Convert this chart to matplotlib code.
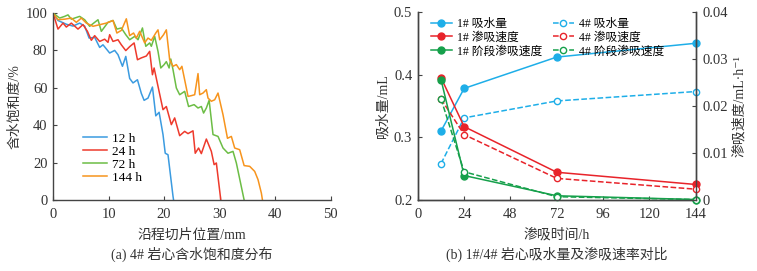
import matplotlib
matplotlib.use("Agg")
import matplotlib.pyplot as plt
from matplotlib.lines import Line2D

plt.rcParams["font.family"] = ["Liberation Serif", "Noto Sans CJK SC", "DejaVu Sans"]
plt.rcParams["axes.unicode_minus"] = False

# (a) 4# core water saturation along slice position
x12 = [0, 0.9, 2.4, 3.6, 4.8, 5.7, 6.5, 7.5, 8.4, 9.0, 10.2, 11.1, 11.7, 12.5, 13.1, 13.8,
       14.4, 15.2, 15.9, 16.4, 17.1, 17.9, 18.2, 18.5, 19.1, 19.8, 20.2, 20.7, 21.6, 21.7]
s12 = [100, 96, 94, 93, 94.6, 93, 86.6, 87, 81.6, 83, 78.6, 80, 77.7, 71.5, 76.8, 65,
       62.6, 64.3, 57, 53.3, 54.5, 60.4, 52.8, 45, 46.9, 35, 25, 24.2, 2, 0]

x24 = [0, 0.9, 1.8, 2.4, 3.3, 4.5, 5.4, 6.2, 6.9, 7.5, 8.4, 9.3, 9.9, 10.2, 10.8, 11.7,
       12.3, 13.1, 13.8, 14.6, 15.2, 15.9, 16.8, 17.4, 17.9, 18.2, 19.1, 19.8, 20.4, 21.3,
       21.9, 22.8, 23.7, 24.3, 25.2, 25.6, 26.2, 26.7, 27.6, 28.5, 29.0, 29.4, 30.2]
s24 = [100, 91.4, 94.6, 92.5, 94.6, 91.4, 93.8, 90.2, 85.4, 87.9, 84.8, 86, 84.3, 88.4, 84.8, 85.7,
       83, 79.9, 82, 84, 75, 76, 77, 79.5, 67, 70.6, 58, 48.3, 50, 40.3,
       43.9, 34.4, 36.7, 35.5, 37, 25, 27.8, 24.8, 32.6, 26, 18.9, 19.8, 0]

x72 = [0, 1.2, 2.1, 2.7, 3.3, 4.8, 5.7, 6.6, 8.1, 8.7, 9.9, 10.8, 11.5, 12.3, 13.1, 13.8,
       14.7, 15.3, 16.1, 16.7, 17.4, 17.7, 18.3, 18.9, 19.4, 20.0, 20.4, 20.9, 21.2, 21.6,
       22.2, 22.8, 23.7, 24.4, 25.4, 26.1, 26.7, 27.1, 27.6, 28.1, 28.8, 29.7, 30.6, 31.5,
       32.4, 33.0, 34.4]
s72 = [100, 97.3, 98.2, 99, 96.7, 98.2, 96.4, 92.9, 96.4, 90.2, 95, 96, 91.4, 92, 88.4, 85.7,
       87.5, 85.7, 92, 82.2, 84, 82.2, 87.5, 79.5, 70.6, 72.4, 74, 70.6, 75.4, 69.7,
       59.9, 56.3, 58.1, 50, 51, 49.2, 50, 46.5, 49.2, 53.3, 35, 34, 27.8, 25,
       26, 19.8, 0]

x144 = [0, 0.9, 2.1, 3.3, 4.2, 5.1, 6.0, 7.2, 9.6, 10.8, 11.5, 12.3, 13.2, 13.8, 14.5, 15.0,
        15.6, 16.5, 17.1, 17.7, 18.5, 18.9, 19.2, 19.9, 20.4, 21.0, 21.6, 22.2, 22.8, 23.2,
        24.0, 24.3, 24.9, 25.5, 26.1, 26.4, 27.0, 27.6, 27.9, 28.5, 29.1, 29.7, 30.6, 31.4,
        32.1, 32.7, 33.6, 34.4, 35.4, 36.3, 36.9, 37.5, 37.7]
s144 = [100, 96.4, 96.7, 97.3, 95, 97.3, 94.6, 92.9, 94.6, 96, 89.3, 90.7, 96.9, 87.9, 89.3, 86.6,
        90.2, 84, 86.6, 85.4, 89.3, 91, 85.7, 88.4, 91, 75, 71.5, 72.4, 69.7, 71.5,
        59.9, 55.4, 55.8, 56.3, 67.6, 56.3, 57.2, 59, 54.5, 52.8, 53.6, 57.2, 45.6, 33,
        34, 27.8, 26.9, 18.4, 18, 15.3, 10.9, 3.7, 0]

# (b) water uptake and imbibition rate, 1# vs 4#
hours = [12, 24, 72, 144]
uptake_1 = [0.310, 0.378, 0.428, 0.450]
uptake_4 = [0.258, 0.331, 0.358, 0.373]
rate_1 = [0.0260, 0.0156, 0.0059, 0.0033]
rate_4 = [0.0215, 0.0139, 0.0046, 0.0023]
stage_1 = [0.0256, 0.0052, 0.0009, 0.0001]
stage_4 = [0.0215, 0.0060, 0.0007, 0.0001]

fig = plt.figure(figsize=(7.57, 2.71), dpi=100)
ax1 = fig.add_axes([0.070, 0.262, 0.367, 0.690])
ax2 = fig.add_axes([0.552, 0.262, 0.367, 0.694])

TXT = "#333333"
FS = 10.5

def style(ax):
    for s in ax.spines.values():
        s.set_color("#444444")
        s.set_linewidth(1.0)
    ax.tick_params(direction="in", length=3, labelsize=FS, colors="#444444",
                   labelcolor=TXT, pad=4)
    ax.tick_params(axis="x", pad=6)

# ---- left panel
ax1.plot(x12, s12, color="#3b9be0", lw=1.1, label="12 h")
ax1.plot(x24, s24, color="#ee3a2c", lw=1.1, label="24 h")
ax1.plot(x72, s72, color="#6cbd45", lw=1.1, label="72 h")
ax1.plot(x144, s144, color="#f7941d", lw=1.1, label="144 h")
ax1.set_xlim(0, 50)
ax1.set_ylim(0, 100)
ax1.set_xticks(range(0, 51, 10))
ax1.set_yticks(range(0, 101, 20))
ax1.spines["top"].set_visible(False)
ax1.spines["right"].set_visible(False)
style(ax1)
ax1.set_xlabel("沿程切片位置/mm", fontsize=10, color=TXT, labelpad=5)
ax1.set_ylabel("含水饱和度/%", fontsize=10, color=TXT, labelpad=3)
ax1.legend(loc="upper left", bbox_to_anchor=(0.085, 0.395), frameon=False, fontsize=9.5,
           handlelength=1.8, handletextpad=0.4, labelspacing=0.05, borderpad=0)

# ---- right panel
BLUE, RED, GREEN = "#1eaee8", "#e8232a", "#16a04b"
ax2.plot(hours, uptake_1, color=BLUE, lw=1.1, marker="o", ms=5, clip_on=False)
ax2.plot(hours, uptake_4, color=BLUE, lw=1.1, ls="--", marker="o", ms=4.5, mfc="white",
         clip_on=False)
ax2.set_xlim(0, 144)
ax2.set_ylim(0.2, 0.5)
ax2.set_xticks(range(0, 145, 24))
ax2.set_yticks([0.2, 0.3, 0.4, 0.5])
ax2.set_yticklabels(["0.2", "0.3", "0.4", "0.5"])
ax2.spines["top"].set_visible(False)
style(ax2)

ax3 = ax2.twinx()
ax3.plot(hours, rate_1, color=RED, lw=1.1, marker="o", ms=5, clip_on=False)
ax3.plot(hours, rate_4, color=RED, lw=1.1, ls="--", marker="o", ms=4.5, mfc="white",
         clip_on=False)
ax3.plot(hours, stage_1, color=GREEN, lw=1.1, marker="o", ms=5, clip_on=False)
ax3.plot(hours, stage_4, color=GREEN, lw=1.1, ls="--", marker="o", ms=4.5, mfc="white",
         clip_on=False)
ax3.set_ylim(0, 0.04)
ax3.set_yticks([0, 0.01, 0.02, 0.03, 0.04])
ax3.set_yticklabels(["0", "0.01", "0.02", "0.03", "0.04"])
ax3.spines["top"].set_visible(False)
style(ax3)
ax3.tick_params(axis="y", pad=5)

ax2.set_xlabel("渗吸时间/h", fontsize=10, color=TXT, labelpad=5)
ax2.set_ylabel("吸水量/mL", fontsize=10, color=TXT, labelpad=3)
ax3.set_ylabel("渗吸速度/mL·h⁻¹", fontsize=10, color=TXT, labelpad=3)

labels = ["1# 吸水量", "1# 渗吸速度", "1# 阶段渗吸速度",
          "4# 吸水量", "4# 渗吸速度", "4# 阶段渗吸速度"]
cols = [BLUE, RED, GREEN, BLUE, RED, GREEN]
handles = []
for i, c in enumerate(cols):
    hollow = i >= 3
    handles.append(Line2D([], [], color=c, lw=1.1, ls="--" if hollow else "-", marker="o",
                          ms=4.5 if hollow else 5, mfc="white" if hollow else c))
ax3.legend(handles, labels, ncol=2, loc="upper left", bbox_to_anchor=(0.025, 1.0),
           frameon=False, fontsize=8.5, handlelength=1.8, handletextpad=0.4,
           labelspacing=0.15, columnspacing=0.9, borderpad=0)

fig.text(0.070 + 0.367 / 2, 0.035, "(a) 4# 岩心含水饱和度分布", ha="center", va="bottom",
         fontsize=10, color=TXT)
fig.text(0.552 + 0.367 / 2, 0.035, "(b) 1#/4# 岩心吸水量及渗吸速率对比", ha="center",
         va="bottom", fontsize=10, color=TXT)

fig.savefig("out.png", dpi=100)
